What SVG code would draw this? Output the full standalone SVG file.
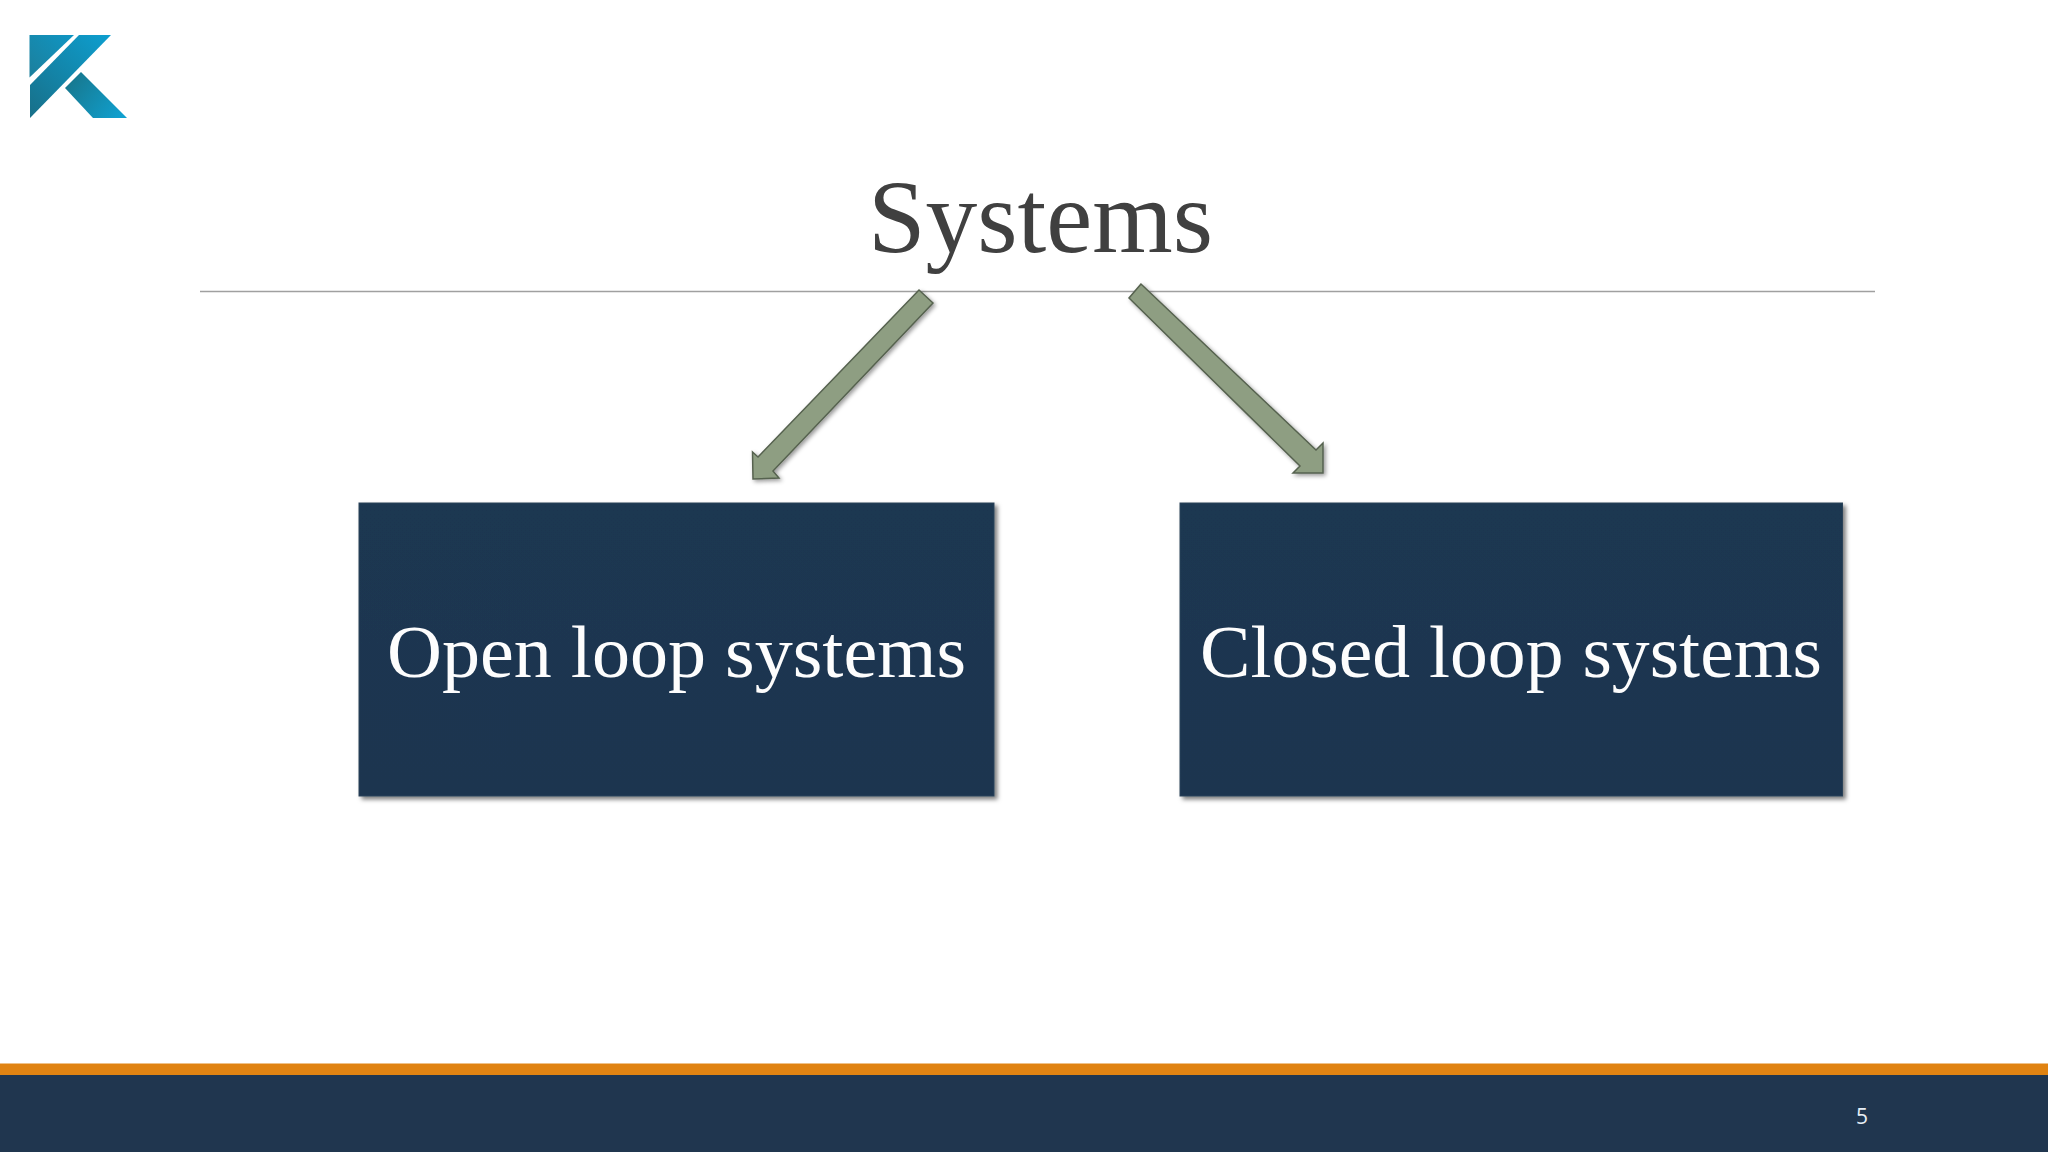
<svg xmlns="http://www.w3.org/2000/svg" width="2048" height="1152" viewBox="0 0 2048 1152">
<style>
.serif{font-family:"Liberation Serif","DejaVu Serif",serif}
.box{fill:url(#boxFill);stroke:#2a4258;stroke-width:1;filter:url(#shadow)}
.label{font-size:73px;fill:#fdfdfd;text-anchor:start}
.arrow{fill:#8e9e82;stroke:#56624f;stroke-width:1.500;stroke-linejoin:miter;filter:url(#ashadow)}
</style>
<defs>
<filter id="shadow" x="-5%" y="-5%" width="110%" height="110%"><feDropShadow dx="3" dy="3" stdDeviation="2" flood-color="#000" flood-opacity="0.5"/></filter>
<filter id="ashadow" x="-10%" y="-10%" width="120%" height="120%"><feDropShadow dx="2" dy="2" stdDeviation="2" flood-color="#000" flood-opacity="0.4"/></filter>
<linearGradient id="boxFill" x1="0" y1="0" x2="0" y2="1"><stop offset="0" stop-color="#1c3751"/><stop offset="1" stop-color="#1a3550"/></linearGradient>
<linearGradient id="logoA" gradientUnits="userSpaceOnUse" x1="30" y1="118" x2="111" y2="35"><stop offset="0" stop-color="#186f88"/><stop offset="1" stop-color="#0d9fd0"/></linearGradient>
<linearGradient id="logoC" gradientUnits="userSpaceOnUse" x1="30" y1="77" x2="74" y2="35"><stop offset="0" stop-color="#1c7f9c"/><stop offset="1" stop-color="#0f96c4"/></linearGradient>
<linearGradient id="logoB" gradientUnits="userSpaceOnUse" x1="70" y1="80" x2="120" y2="118"><stop offset="0" stop-color="#17788f"/><stop offset="1" stop-color="#10a0cf"/></linearGradient>
</defs>
<rect width="2048" height="1152" fill="#ffffff"/>
<g id="logo">
<polygon points="29.500,35 74,35 29.500,77.500" fill="url(#logoC)"/>
<polygon points="79,35 111,35 30,118 30,85" fill="url(#logoA)"/>
<polygon points="81,72 127,118 93,118 65,88" fill="url(#logoB)"/>
</g>
<g id="title">
<text class="serif" x="868" y="252" font-size="104" fill="#404040" textLength="345" lengthAdjust="spacingAndGlyphs">Systems</text>
<line x1="200" y1="291.500" x2="1875" y2="291.500" stroke="#a0a0a0" stroke-width="1.500"/>
</g>
<g id="connectors">
<polygon class="arrow" points="919,290 933,303 773,471 779,478 753,479 752.500,452 758,457"/>
<polygon class="arrow" points="1141,284 1129,298 1300,466 1293,473 1323,473 1323,443 1316,450"/>
</g>
<g id="open-loop">
<rect class="box" x="359" y="503" width="635" height="293"/>
<text class="serif label" x="387" y="677" textLength="579" lengthAdjust="spacingAndGlyphs">Open loop systems</text>
</g>
<g id="closed-loop">
<rect class="box" x="1180" y="503" width="662.500" height="293"/>
<text class="serif label" x="1200" y="677" textLength="622" lengthAdjust="spacingAndGlyphs">Closed loop systems</text>
</g>
<g id="footer">
<rect x="0" y="1063.500" width="2048" height="11.500" fill="#e08312"/>
<rect x="0" y="1075" width="2048" height="77" fill="#20364f"/>
<text x="1862" y="1124" font-family="'Open Sans','Noto Sans',sans-serif" font-size="21" fill="#e6eef5" text-anchor="middle">5</text>
</g>
</svg>
